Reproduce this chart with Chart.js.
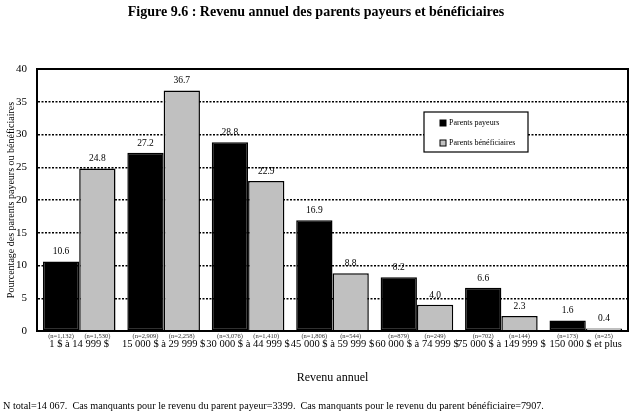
<!DOCTYPE html>
<html>
<head>
<meta charset="utf-8">
<script src="https://cdn.jsdelivr.net/npm/chart.js@4"></script>
<style>
  html, body { margin: 0; padding: 0; background: #fff; }
  #wrap { width: 635px; height: 413px; }
</style>
</head>
<body>
<div id="wrap"><canvas id="chart"></canvas></div>
<script>
/* ---------- data ---------- */
const categories = [
  '1 $ à 14 999 $', '15 000 $ à 29 999 $', '30 000 $ à 44 999 $',
  '45 000 $ à 59 999 $', '60 000 $ à 74 999 $', '75 000 $ à 149 999 $',
  '150 000 $ et plus'
];
const payeurs       = [10.6, 27.2, 28.8, 16.9, 8.2, 6.6, 1.6];
const beneficiaires = [24.8, 36.7, 22.9, 8.8, 4.0, 2.3, 0.4];
const nPayeurs       = ['1,132', '2,909', '3,076', '1,806', '879', '702', '173'];
const nBeneficiaires = ['1,530', '2,258', '1,410', '544', '249', '144', '25'];
const yTicks = [0, 5, 10, 15, 20, 25, 30, 35, 40];

const TITLE = 'Figure 9.6 : Revenu annuel des parents payeurs et bénéficiaires';
const FOOTNOTE = 'N total=14 067.  Cas manquants pour le revenu du parent payeur=3399.  Cas manquants pour le revenu du parent bénéficiaire=7907.';
const SERIF = '"Liberation Serif", "DejaVu Serif", serif';

/* ---------- extras drawn on top: frame, labels, legend, title, footnote ---------- */
const extras = {
  id: 'extras',
  afterDraw(chart) {
    const ctx = chart.ctx;
    const a = chart.chartArea;
    ctx.save();

    // frame
    ctx.setLineDash([]);
    ctx.strokeStyle = '#000';
    ctx.lineWidth = 2;
    ctx.strokeRect(a.left, a.top, a.right - a.left, a.bottom - a.top);

    // value labels and n labels
    const nLists = [nPayeurs, nBeneficiaires];
    chart.data.datasets.forEach((ds, di) => {
      const meta = chart.getDatasetMeta(di);
      meta.data.forEach((bar, i) => {
        ctx.fillStyle = '#000';
        ctx.font = '9.5px ' + SERIF;
        ctx.textAlign = 'center';
        ctx.textBaseline = 'bottom';
        ctx.fillText(ds.data[i].toFixed(1), bar.x, bar.y - 5);

        ctx.fillStyle = '#333';
        ctx.font = '6.5px ' + SERIF;
        ctx.textBaseline = 'top';
        ctx.fillText('(n=' + nLists[di][i] + ')', bar.x, a.bottom + 2);
      });
    });

    // legend box
    const lx = a.left + 387, ly = a.top + 43;
    ctx.fillStyle = '#fff';
    ctx.fillRect(lx, ly, 104, 40);
    ctx.lineWidth = 1.2;
    ctx.strokeRect(lx, ly, 104, 40);
    ctx.font = '8px ' + SERIF;
    ctx.textAlign = 'left';
    ctx.textBaseline = 'middle';
    chart.data.datasets.forEach((ds, di) => {
      const ry = ly + 11 + di * 20;
      ctx.fillStyle = ds.backgroundColor;
      ctx.fillRect(lx + 16, ry - 3, 6, 6);
      ctx.strokeStyle = '#000';
      ctx.lineWidth = 1;
      ctx.strokeRect(lx + 16, ry - 3, 6, 6);
      ctx.fillStyle = '#000';
      ctx.fillText(ds.label, lx + 25, ry);
    });

    // title and footnote
    ctx.fillStyle = '#000';
    ctx.textAlign = 'center';
    ctx.font = 'bold 14px ' + SERIF;
    ctx.fillText(TITLE, 316, 12);
    ctx.textAlign = 'left';
    ctx.font = '10.2px ' + SERIF;
    ctx.fillText(FOOTNOTE, 3, 406);

    ctx.restore();
  }
};

/* ---------- chart ---------- */
new Chart(document.getElementById('chart'), {
  type: 'bar',
  data: {
    labels: categories,
    datasets: [
      {
        label: 'Parents payeurs',
        data: payeurs,
        backgroundColor: '#000000',
        borderColor: '#000000',
        borderWidth: 1.5,
        borderSkipped: false
      },
      {
        label: 'Parents bénéficiaires',
        data: beneficiaires,
        backgroundColor: '#c0c0c0',
        borderColor: '#000000',
        borderWidth: 1.5,
        borderSkipped: 'bottom'
      }
    ]
  },
  options: {
    responsive: true,
    maintainAspectRatio: false,
    animation: false,
    layout: { padding: { top: 69, right: 7, left: 0, bottom: 28 } },
    plugins: {
      legend: { display: false },
      tooltip: { enabled: false }
    },
    datasets: {
      bar: { categoryPercentage: 0.86, barPercentage: 1.0 }
    },
    scales: {
      x: {
        grid: { display: false, drawTicks: false },
        border: { color: '#000', width: 2 },
        ticks: {
          color: '#000',
          font: { family: SERIF, size: 10.5 },
          padding: 7,
          maxRotation: 0,
          autoSkip: false
        },
        title: {
          display: true,
          text: 'Revenu annuel',
          color: '#000',
          font: { family: SERIF, size: 12 },
          padding: { top: 4, bottom: 0 }
        },
        afterFit(scale) { scale.height = 54; }
      },
      y: {
        min: 0,
        max: 40,
        afterBuildTicks(scale) { scale.ticks = yTicks.map(v => ({ value: v })); },
        grid: {
          drawTicks: false,
          color: ctx => (ctx.tick && (ctx.tick.value === 0 || ctx.tick.value === 40)) ? 'rgba(0,0,0,0)' : '#000',
          lineWidth: 1.5
        },
        border: { color: '#000', width: 2, dash: [2, 1.5] },
        ticks: {
          color: '#000',
          font: { family: SERIF, size: 11 },
          padding: 10
        },
        title: {
          display: true,
          text: 'Pourcentage des parents payeurs ou bénéficiaires',
          color: '#000',
          font: { family: SERIF, size: 10 },
          padding: { top: 5, bottom: 0 }
        },
        afterFit(scale) { scale.width = 37; }
      }
    }
  },
  plugins: [extras]
});
</script>
</body>
</html>
